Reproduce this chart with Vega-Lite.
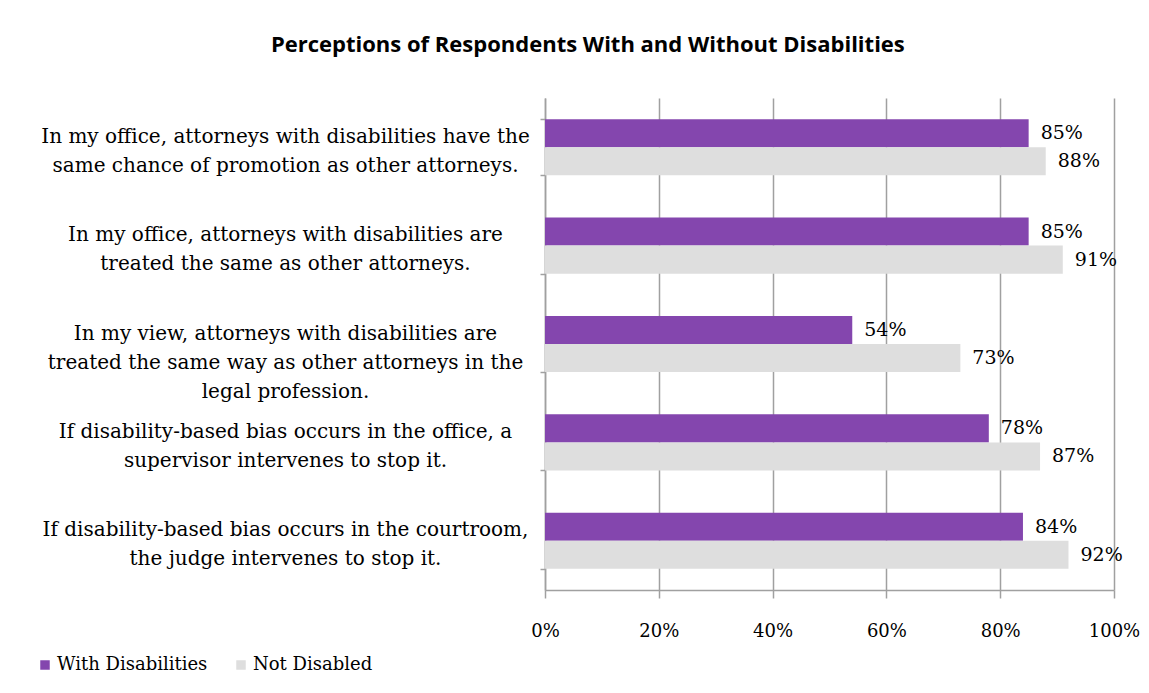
{
  "$schema": "https://vega.github.io/schema/vega-lite/v6.json",
  "width": 569,
  "height": 492,
  "autosize": {"type": "none"},
  "padding": {"left": 545, "top": 98, "right": 35, "bottom": 103},
  "background": "white",
  "title": {
    "text": "Perceptions of Respondents With and Without Disabilities",
    "font": "Open Sans",
    "fontWeight": "bold",
    "fontSize": 22,
    "color": "black",
    "anchor": "middle",
    "frame": "bounds",
    "offset": 31
  },
  "data": {
    "values": [
      {"q": "In my office, attorneys with disabilities have the|same chance of promotion as other attorneys.", "group": "With Disabilities", "v": 0.85},
      {"q": "In my office, attorneys with disabilities have the|same chance of promotion as other attorneys.", "group": "Not Disabled", "v": 0.88},
      {"q": "In my office, attorneys with disabilities are|treated the same as other attorneys.", "group": "With Disabilities", "v": 0.85},
      {"q": "In my office, attorneys with disabilities are|treated the same as other attorneys.", "group": "Not Disabled", "v": 0.91},
      {"q": "In my view, attorneys with disabilities are|treated the same way as other attorneys in the|legal profession.", "group": "With Disabilities", "v": 0.54},
      {"q": "In my view, attorneys with disabilities are|treated the same way as other attorneys in the|legal profession.", "group": "Not Disabled", "v": 0.73},
      {"q": "If disability-based bias occurs in the office, a|supervisor intervenes to stop it.", "group": "With Disabilities", "v": 0.78},
      {"q": "If disability-based bias occurs in the office, a|supervisor intervenes to stop it.", "group": "Not Disabled", "v": 0.87},
      {"q": "If disability-based bias occurs in the courtroom,|the judge intervenes to stop it.", "group": "With Disabilities", "v": 0.84},
      {"q": "If disability-based bias occurs in the courtroom,|the judge intervenes to stop it.", "group": "Not Disabled", "v": 0.92}
    ]
  },
  "encoding": {
    "y": {
      "field": "q",
      "type": "nominal",
      "sort": null,
      "scale": {"paddingInner": 0.43, "paddingOuter": 0.215},
      "axis": {
        "title": null,
        "labelExpr": "split(datum.label, '|')",
        "labelAlign": "center",
        "labelFont": "DejaVu Serif",
        "labelFontSize": 20,
        "labelColor": "black",
        "labelLineHeight": 29,
        "labelLimit": 600,
        "labelPadding": 255,
        "labelOffset": -11,
        "tickBand": "extent",
        "tickColor": "#A0A0A0",
        "tickWidth": 1.5,
        "tickSize": 5,
        "domainColor": "#A0A0A0",
        "domainWidth": 1.5
      }
    },
    "yOffset": {"field": "group", "type": "nominal", "sort": ["With Disabilities", "Not Disabled"]},
    "x": {
      "field": "v",
      "type": "quantitative",
      "scale": {"domain": [0, 1], "nice": false},
      "axis": {
        "title": null,
        "format": ".0%",
        "values": [0, 0.2, 0.4, 0.6, 0.8, 1],
        "grid": true,
        "gridColor": "#A0A0A0",
        "gridWidth": 1.5,
        "domainColor": "#A0A0A0",
        "domainWidth": 1.5,
        "tickColor": "#A0A0A0",
        "tickWidth": 1.5,
        "tickSize": 8,
        "labelFlush": false,
        "labelFont": "DejaVu Serif",
        "labelFontSize": 18,
        "labelColor": "black",
        "labelPadding": 24
      }
    }
  },
  "layer": [
    {
      "mark": {"type": "bar"},
      "encoding": {
        "color": {
          "field": "group",
          "type": "nominal",
          "scale": {"domain": ["With Disabilities", "Not Disabled"], "range": ["#8446AE", "#DEDEDE"]},
          "legend": {
            "title": null,
            "orient": "none",
            "direction": "horizontal",
            "legendX": -509,
            "legendY": 558,
            "symbolType": "square",
            "symbolSize": 90,
            "symbolStrokeWidth": 0,
            "labelFont": "DejaVu Serif",
            "labelFontSize": 18,
            "labelColor": "black",
            "labelOffset": 3,
            "columnPadding": 24
          }
        }
      }
    },
    {
      "mark": {"type": "text", "align": "left", "baseline": "middle", "dx": 12, "font": "DejaVu Serif", "fontSize": 19, "color": "black"},
      "encoding": {
        "text": {"field": "v", "type": "quantitative", "format": ".0%"}
      }
    }
  ],
  "config": {"view": {"stroke": null}}
}
